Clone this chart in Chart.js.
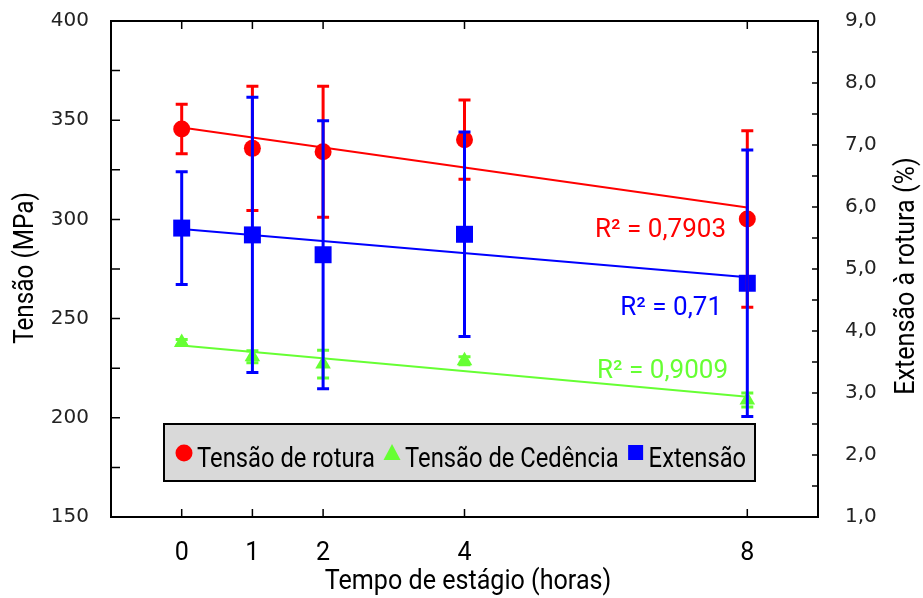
<!DOCTYPE html>
<html>
<head>
<meta charset="utf-8">
<script src="https://cdn.jsdelivr.net/npm/chart.js@4"></script>
<style>
  html, body { margin: 0; padding: 0; background: #fff; }
</style>
</head>
<body>
<canvas id="chart" width="923" height="598"></canvas>
<script>
  // data
  const hours = [0, 1, 2, 4, 8];
  const rotura = [345.6, 335.8, 334.1, 340.2, 300.2];
  const roturaErr = [12.5, 31.3, 33, 20, 44.5];
  const cedencia = [238.0, 230.8, 227.1, 228.8, 209.0];
  const cedenciaErr = [1.5, 3, 7, 2, 3.5];
  const extensao = [5.66, 5.55, 5.23, 5.56, 4.77];
  const extensaoErr = [0.91, 2.22, 2.16, 1.65, 2.15];
  const r2Labels = ['R² = 0,7903', 'R² = 0,71', 'R² = 0,9009'];

  const RED = '#ff0000', GREEN = '#66ff33', BLUE = '#0000ff';
  const sans = 'Roboto, "Liberation Sans", sans-serif';
  const wide = '"DejaVu Sans", Verdana, sans-serif';

  const pts = (ys) => hours.map((x, i) => ({ x: x, y: ys[i] }));

  // least squares trend line over the hours
  function trend(ys) {
    const n = hours.length;
    const mx = hours.reduce((a, b) => a + b, 0) / n;
    const my = ys.reduce((a, b) => a + b, 0) / n;
    let sxy = 0, sxx = 0;
    hours.forEach((x, i) => { sxy += (x - mx) * (ys[i] - my); sxx += (x - mx) * (x - mx); });
    const b = sxy / sxx, a = my - b * mx;
    const x0 = hours[0], x1 = hours[n - 1];
    return [{ x: x0, y: a + b * x0 }, { x: x1, y: a + b * x1 }];
  }

  // squeezed text, the original uses a narrow face
  function narrowText(ctx, text, x, y, sx, rot) {
    ctx.save();
    ctx.translate(x, y);
    if (rot) ctx.rotate(rot);
    ctx.scale(sx, 1);
    ctx.fillText(text, 0, 0);
    ctx.restore();
    return ctx.measureText(text).width * sx;
  }

  const errorBars = {
    id: 'errorBars',
    afterDatasetsDraw(chart) {
      const ctx = chart.ctx;
      const xs = chart.scales.x;
      const sets = [
        [rotura, roturaErr, chart.scales.y, RED],
        [cedencia, cedenciaErr, chart.scales.y, GREEN],
        [extensao, extensaoErr, chart.scales.y2, BLUE]
      ];
      ctx.save();
      ctx.lineWidth = 3;
      sets.forEach(([vals, errs, ys, col]) => {
        ctx.strokeStyle = col;
        hours.forEach((h, i) => {
          const px = xs.getPixelForValue(h);
          const top = ys.getPixelForValue(vals[i] + errs[i]);
          const bot = ys.getPixelForValue(vals[i] - errs[i]);
          ctx.beginPath();
          ctx.moveTo(px, top); ctx.lineTo(px, bot);
          ctx.moveTo(px - 6, top); ctx.lineTo(px + 6, top);
          ctx.moveTo(px - 6, bot); ctx.lineTo(px + 6, bot);
          ctx.stroke();
        });
      });
      ctx.restore();
    }
  };

  const frame = {
    id: 'frame',
    afterDraw(chart) {
      const ctx = chart.ctx;
      const a = chart.chartArea;
      const { x, y, y2 } = chart.scales;
      ctx.save();
      ctx.strokeStyle = '#000';
      ctx.lineWidth = 2;
      ctx.strokeRect(a.left, a.top, a.right - a.left, a.bottom - a.top);
      ctx.beginPath();
      y.ticks.forEach(t => {
        const py = y.getPixelForValue(t.value);
        ctx.moveTo(a.left, py); ctx.lineTo(a.left + 9, py);
      });
      y2.ticks.forEach(t => {
        const py = y2.getPixelForValue(t.value);
        ctx.moveTo(a.right, py); ctx.lineTo(a.right - 6, py);
      });
      x.ticks.forEach(t => {
        const px = x.getPixelForValue(t.value);
        ctx.moveTo(px, a.bottom); ctx.lineTo(px, a.bottom - 8);
        ctx.moveTo(px, a.top); ctx.lineTo(px, a.top + 8);
      });
      ctx.lineWidth = 1.5;
      ctx.stroke();

      // axis titles
      ctx.fillStyle = '#000';
      ctx.textAlign = 'center';
      ctx.textBaseline = 'middle';
      ctx.font = '27px ' + sans;
      narrowText(ctx, 'Tempo de estágio (horas)', 468, 582, 0.93);
      narrowText(ctx, 'Tensão (MPa)', 26, 268, 0.9, -Math.PI / 2);
      narrowText(ctx, 'Extensão à rotura (%)', 907, 276, 0.93, -Math.PI / 2);

      // R² labels
      ctx.font = '26px ' + sans;
      ctx.textAlign = 'right';
      ctx.textBaseline = 'alphabetic';
      ctx.fillStyle = RED; narrowText(ctx, r2Labels[0], 726, 237, 1);
      ctx.fillStyle = BLUE; narrowText(ctx, r2Labels[1], 722, 315, 1);
      ctx.fillStyle = GREEN; narrowText(ctx, r2Labels[2], 728, 378, 1);

      // legend box
      ctx.fillStyle = '#d9d9d9';
      ctx.fillRect(164, 424, 591, 57);
      ctx.strokeStyle = '#000';
      ctx.lineWidth = 2;
      ctx.strokeRect(164, 424, 591, 57);
      const items = [
        ['Tensão de rotura', 'circle', RED],
        ['Tensão de Cedência', 'triangle', GREEN],
        ['Extensão', 'rect', BLUE]
      ];
      ctx.font = '27px ' + sans;
      ctx.textAlign = 'left';
      let cx = 184;
      const ly = 453;
      items.forEach(([label, style, col]) => {
        ctx.fillStyle = col;
        ctx.beginPath();
        if (style === 'circle') ctx.arc(cx, ly, 8.5, 0, Math.PI * 2);
        else if (style === 'triangle') { ctx.moveTo(cx, ly - 9); ctx.lineTo(cx + 8.5, ly + 7); ctx.lineTo(cx - 8.5, ly + 7); ctx.closePath(); }
        else ctx.rect(cx - 7.5, ly - 8, 15, 15);
        ctx.fill();
        ctx.fillStyle = '#000';
        const w = narrowText(ctx, label, cx + 13, 467, 0.88);
        cx += 13 + w + 17;
      });
      ctx.restore();
    }
  };

  const scatterSet = (label, ys, col, style, radius, axis) => ({
    type: 'scatter', label: label, data: pts(ys), yAxisID: axis,
    pointStyle: style, pointRadius: radius, pointHoverRadius: radius,
    backgroundColor: col, borderColor: col, borderWidth: 0, showLine: false
  });
  const trendSet = (ys, col, axis) => ({
    type: 'line', data: trend(ys), yAxisID: axis, borderColor: col,
    borderWidth: 2, pointRadius: 0, fill: false
  });

  const fitY = w => s => { s.width = w; s.paddingTop = 0; s.paddingBottom = 0; };

  new Chart(document.getElementById('chart'), {
    data: {
      datasets: [
        trendSet(rotura, RED, 'y'),
        trendSet(extensao, BLUE, 'y2'),
        trendSet(cedencia, GREEN, 'y'),
        scatterSet('Tensão de rotura', rotura, RED, 'circle', 8.5, 'y'),
        scatterSet('Tensão de Cedência', cedencia, GREEN, 'triangle', 9, 'y'),
        scatterSet('Extensão', extensao, BLUE, 'rect', 12, 'y2')
      ]
    },
    options: {
      responsive: false,
      animation: false,
      layout: { padding: { top: 21 } },
      plugins: { legend: { display: false }, tooltip: { enabled: false } },
      scales: {
        x: {
          type: 'linear', min: -1, max: 9,
          afterBuildTicks: s => { s.ticks = hours.map(v => ({ value: v })); },
          afterFit: s => { s.height = 81; s.paddingLeft = 0; s.paddingRight = 0; },
          grid: { display: false, drawTicks: false },
          border: { display: false },
          ticks: { padding: 22, color: '#000', font: { family: sans, size: 25 } }
        },
        y: {
          position: 'left', min: 150, max: 400,
          afterFit: fitY(111),
          grid: { display: false, drawTicks: false },
          border: { display: false },
          ticks: {
            stepSize: 25, padding: 22, color: '#222',
            font: { family: wide, size: 20 },
            callback: v => (v % 50 === 0 ? String(v) : '')
          }
        },
        y2: {
          position: 'right', min: 1, max: 9,
          afterFit: fitY(105),
          grid: { display: false, drawTicks: false },
          border: { display: false },
          ticks: {
            stepSize: 0.5, padding: 27, color: '#222',
            font: { family: wide, size: 20 },
            callback: v => (Number.isInteger(v) ? v.toFixed(1).replace('.', ',') : '')
          }
        }
      }
    },
    plugins: [errorBars, frame]
  });
</script>
</body>
</html>
